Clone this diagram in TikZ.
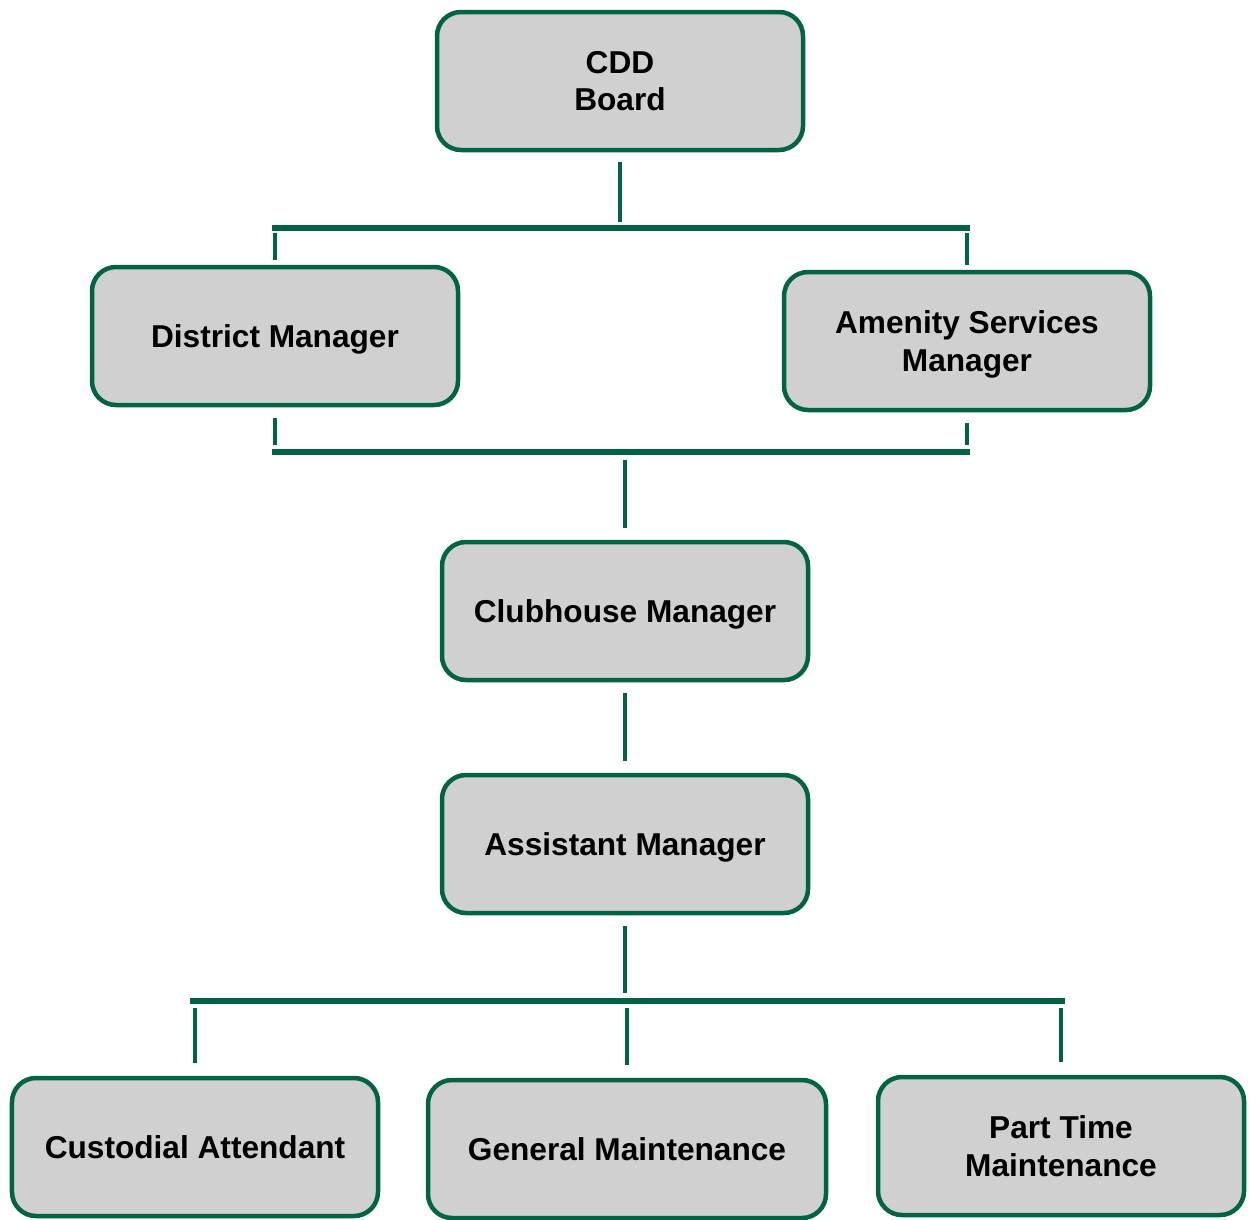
\documentclass[tikz,border=0pt]{standalone}
\usepackage{fontspec}
\setmainfont{Liberation Sans}
\usepackage{tikz}

\definecolor{orggreen}{RGB}{0,99,65}
\definecolor{orggray}{RGB}{208,208,208}

\tikzset{
	post/.style={draw=orggreen, line width=0.09cm, fill=orggray, rounded corners=0.48cm,
		minimum width=7.32cm, minimum height=2.76cm, align=center, inner sep=0pt,
		text depth=0pt, font=\fontsize{18}{21.5}\selectfont\bfseries},
	bar/.style={orggreen, line width=0.11cm},
	stem/.style={orggreen, line width=0.085cm}
}

\begin{document}
\begin{tikzpicture}[scale=1.0]
\useasboundingbox (0,0) rectangle (25,-24.38);

% boxes
\node[post] (cdd) at (12.4,-1.62) {CDD\\Board};
\node[post] (dm) at (5.5,-6.72) {District Manager};
\node[post] (asm) at (19.34,-6.82) {Amenity Services\\Manager};
\node[post] (chm) at (12.5,-12.22) {Clubhouse Manager};
\node[post] (am) at (12.5,-16.88) {Assistant Manager};
\node[post] (ca) at (3.9,-22.94) {Custodial Attendant};
\node[post, minimum width=7.96cm] (gm) at (12.54,-22.98) {General Maintenance};
\node[post] (pt) at (21.22,-22.92) {Part Time\\Maintenance};

% bars
\coordinate (b1l) at (5.44,-4.56);  \coordinate (b1r) at (19.4,-4.56);
\coordinate (b2l) at (5.44,-9.04);  \coordinate (b2r) at (19.4,-9.04);
\coordinate (b3l) at (3.8,-20.02);  \coordinate (b3r) at (21.3,-20.02);
\draw[bar] (b1l) -- (b1r);
\draw[bar] (b2l) -- (b2r);
\draw[bar] (b3l) -- (b3r);

% connectors
\draw[stem, shorten <=0.2cm, shorten >=0.12cm] (cdd.south) -- (cdd.south |- b1l);
\foreach \n in {dm,asm}{
	\draw[stem, shorten <=0.1cm, shorten >=0.1cm] (\n.north |- b1l) -- (\n.north);
	\draw[stem, shorten <=0.22cm, shorten >=0.14cm] (\n.south) -- (\n.south |- b2l);
}
\draw[stem, shorten <=0.16cm, shorten >=0.24cm] (chm.north |- b2l) -- (chm.north);
\draw[stem, shorten <=0.22cm, shorten >=0.24cm] (chm.south) -- (am.north);
\draw[stem, shorten <=0.22cm, shorten >=0.16cm] (am.south) -- (am.south |- b3l);
\foreach \n in {ca,gm,pt}{
	\draw[stem, shorten <=0.14cm, shorten >=0.26cm] (\n.north |- b3l) -- (\n.north);
}

\end{tikzpicture}
\end{document}
